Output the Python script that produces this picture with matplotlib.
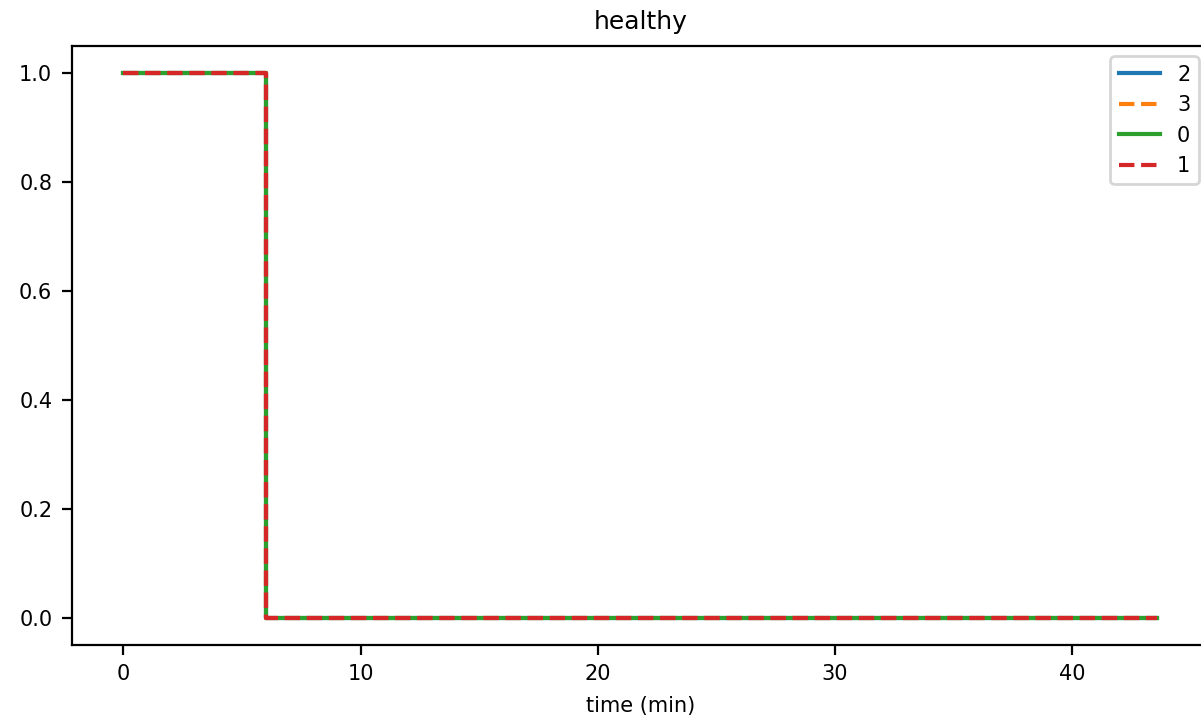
import matplotlib
matplotlib.use('Agg')
import matplotlib.pyplot as plt

# step traces for each run, in the order they appear in the legend
time_min = [0, 6, 43.6]
labels = ['2', '3', '0', '1']
values = {
    '2': [1.0, 0.0, 0.0],
    '3': [1.0, 0.0, 0.0],
    '0': [1.0, 0.0, 0.0],
    '1': [1.0, 0.0, 0.0],
}
styles = ['-', '--', '-', '--']
colors = ['C0', 'C1', 'C2', 'C3']

plt.rcParams['font.size'] = 7.5

fig, ax = plt.subplots(figsize=(1201 / 200, 723 / 200), dpi=200)
# the original was cropped just short of the right spine
fig.subplots_adjust(left=0.0597, right=1.0067, top=0.9364, bottom=0.1079)

for lab, ls, c in zip(labels, styles, colors):
    ax.plot(time_min, values[lab], drawstyle='steps-post', ls=ls, color=c,
            lw=1.5, label=lab)

ax.set_title('healthy')
ax.set_xlabel('time (min)')
ax.legend(loc='upper right')

fig.savefig('out.png', dpi=200)
